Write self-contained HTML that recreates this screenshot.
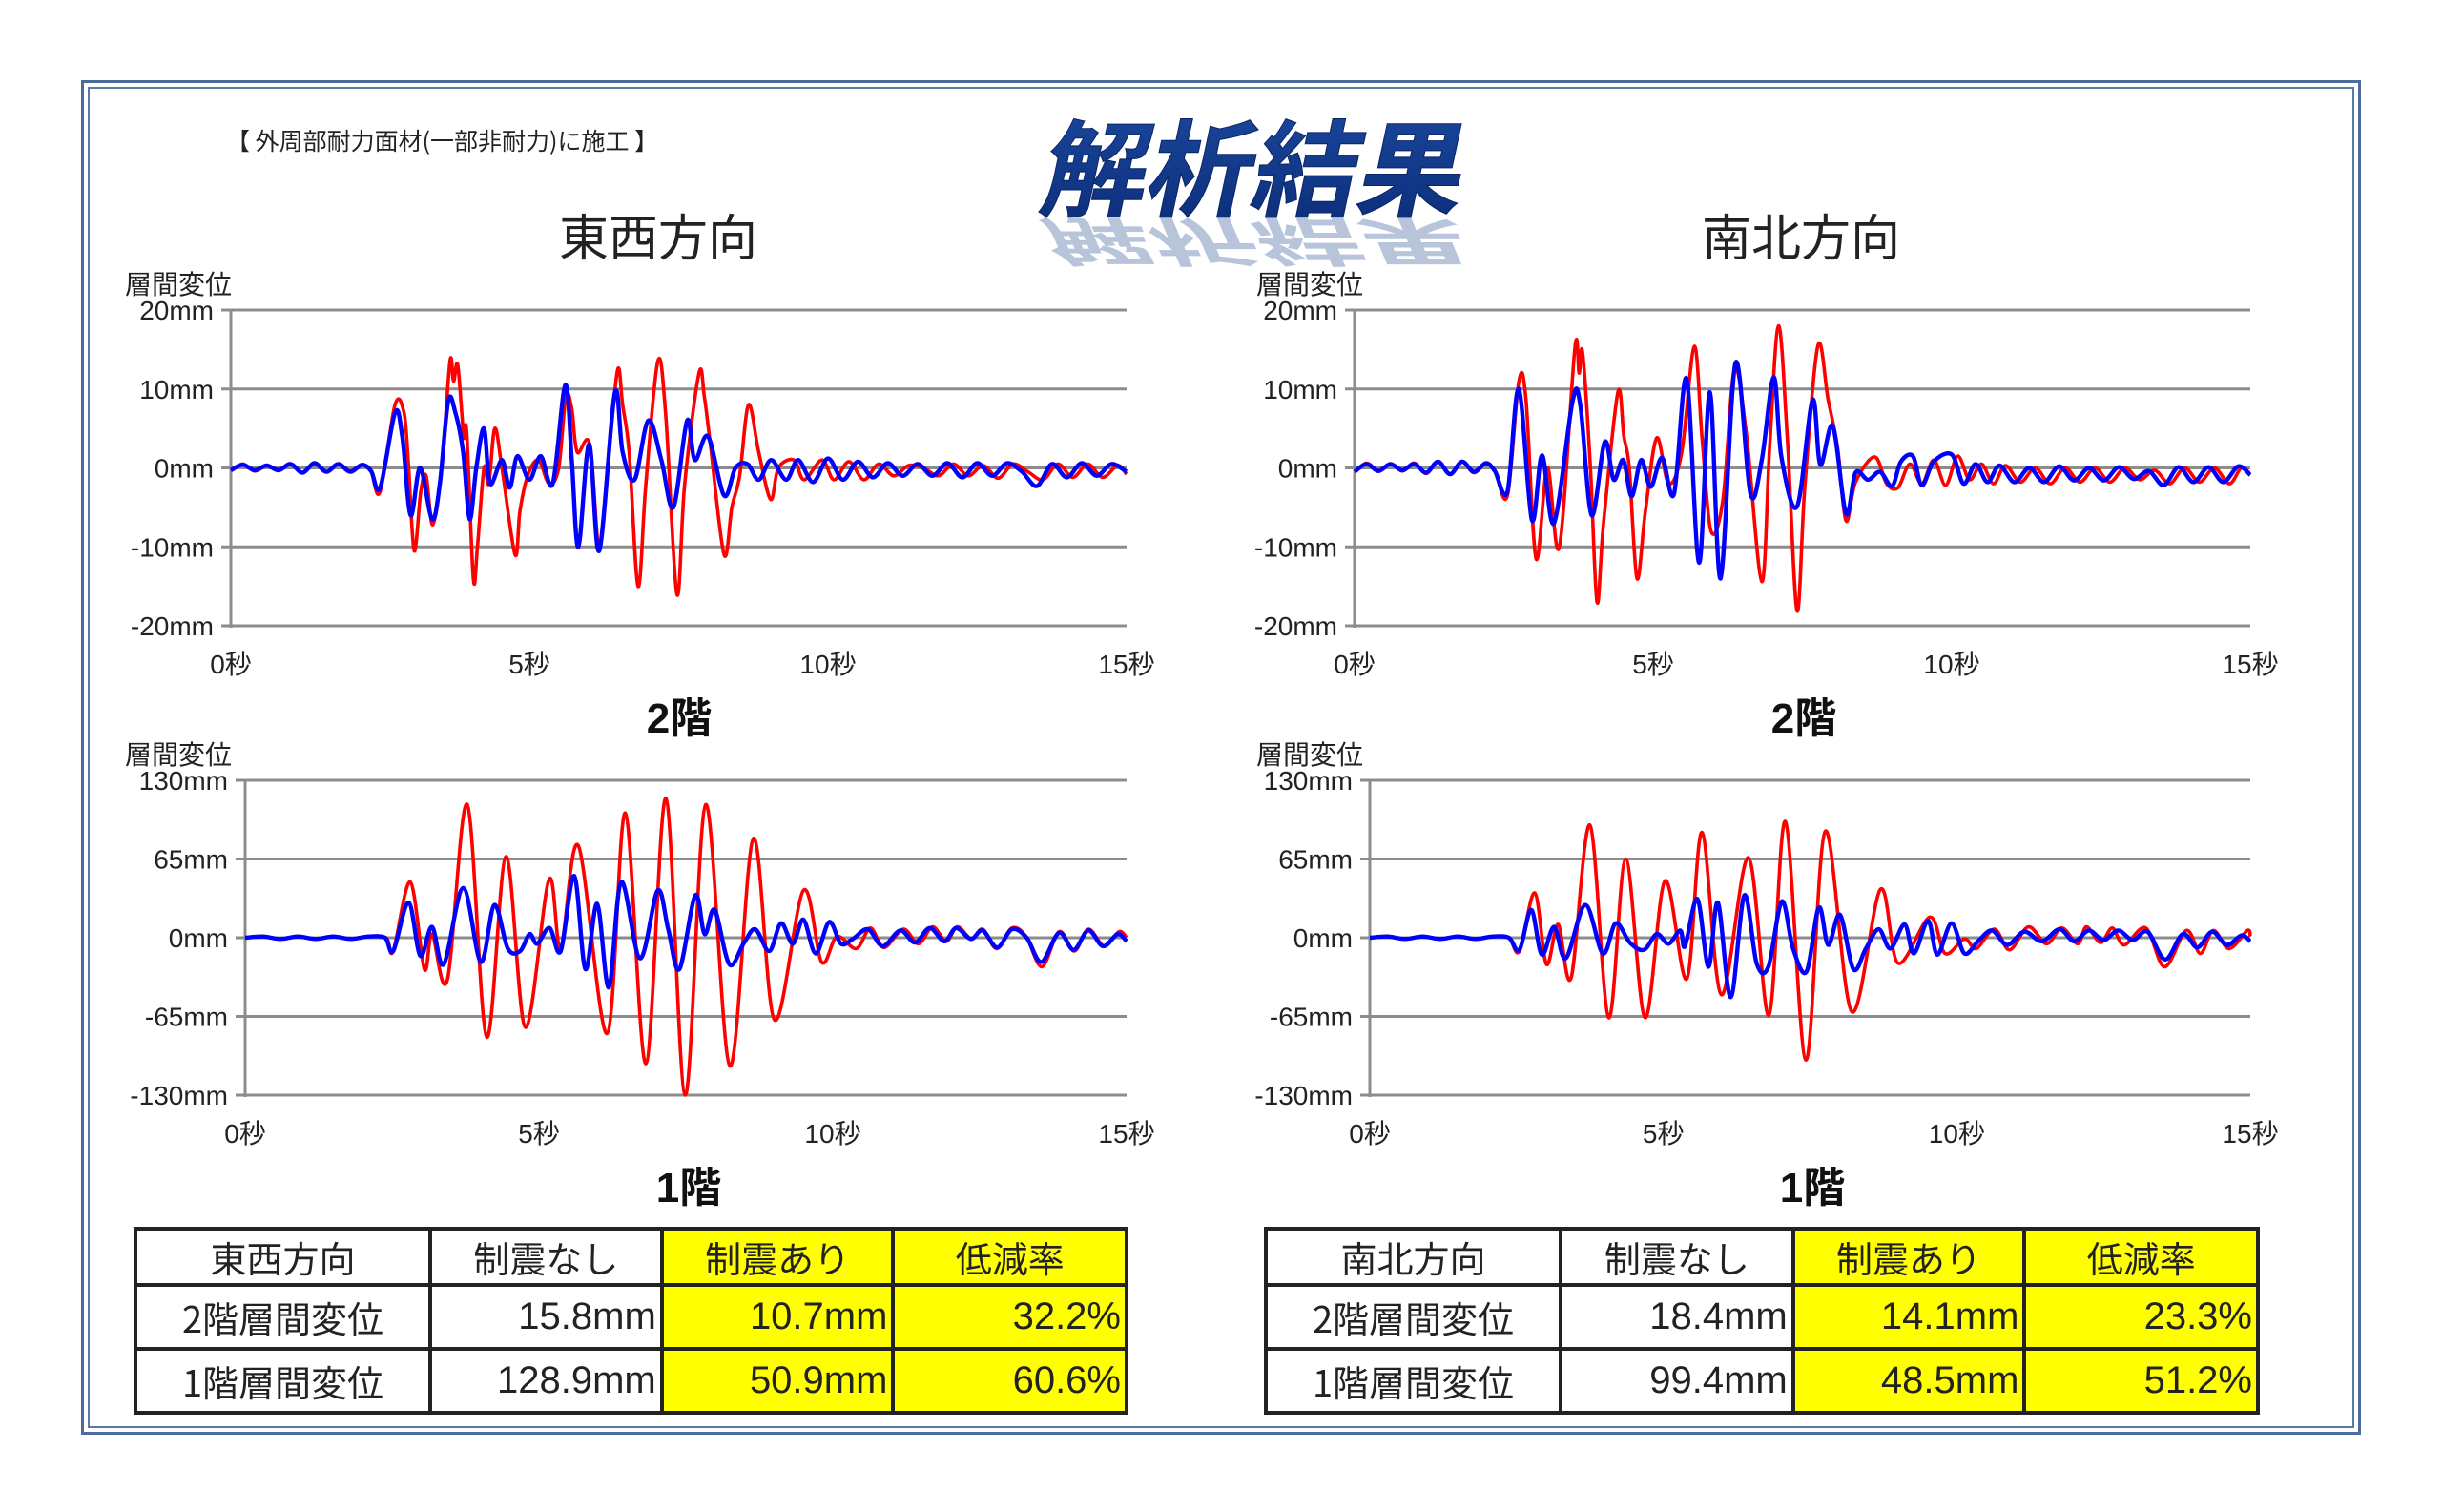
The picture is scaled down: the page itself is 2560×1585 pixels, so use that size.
<!DOCTYPE html>
<html><head><meta charset="utf-8"><style>
html,body{margin:0;padding:0;background:#fff;}
body{width:2560px;height:1585px;overflow:hidden;position:relative;font-family:"Liberation Sans","Noto Sans CJK JP",sans-serif;}
#frame-outer{position:absolute;left:85px;top:84px;width:2390px;height:1420px;border:3px solid #4d6c9c;box-sizing:border-box;}
#frame-inner{position:absolute;left:92px;top:91px;width:2376px;height:1406px;border:2px solid #5a78a8;box-sizing:border-box;}
table{position:absolute;border-collapse:collapse;font-family:"Liberation Sans Narrow","Liberation Sans","Noto Sans CJK JP",sans-serif;font-size:40px;color:#222;}
td{border:4px solid #222;padding:0 4px;height:59px;box-sizing:border-box;}
td.h{text-align:center;font-family:"Noto Sans CJK JP",sans-serif;font-size:38px;}
td.n{text-align:right;}
td.y{background:#ffff00;}
</style></head><body>
<div id="frame-outer"></div>
<div id="frame-inner"></div>

<svg id="charts" width="2560" height="1585" style="position:absolute;left:0;top:0">
<defs>
<linearGradient id="titleGrad" x1="0" y1="0" x2="0" y2="1"><stop offset="0" stop-color="#1c4aa0"/><stop offset="1" stop-color="#0b2c78"/></linearGradient>
<linearGradient id="refGrad" gradientUnits="userSpaceOnUse" x1="0" y1="228" x2="0" y2="275"><stop offset="0" stop-color="#7088b4" stop-opacity="0.5"/><stop offset="1" stop-color="#ffffff" stop-opacity="0"/></linearGradient>
</defs>
<text x="1085" y="218" font-size="110" font-weight="bold" textLength="442" lengthAdjust="spacingAndGlyphs" font-family="Noto Sans CJK JP, sans-serif" fill="url(#refGrad)" transform="matrix(1,0,-0.2126,-0.5,48.5,342)">解析結果</text>
<text x="1085" y="218" font-size="110" font-weight="bold" textLength="442" lengthAdjust="spacingAndGlyphs" font-family="Noto Sans CJK JP, sans-serif" fill="url(#titleGrad)" stroke="#0a2466" stroke-width="1" transform="matrix(1,0,-0.2126,1,48.5,0)">解析結果</text>
<text x="237" y="157" font-size="25" font-family="Noto Sans CJK JP, sans-serif" fill="#222">【 外周部耐力面材(一部非耐力)に施工 】</text>
<text x="690" y="268" font-size="52" text-anchor="middle" font-family="Noto Sans CJK JP, sans-serif" fill="#222">東西方向</text>
<text x="1888" y="268" font-size="52" text-anchor="middle" font-family="Noto Sans CJK JP, sans-serif" fill="#222">南北方向</text>
<g id="g1"></g><g id="g2"></g><g id="g3"></g><g id="g4"></g>
</svg>

<table style="left:140px;top:1286px;width:1043px">
<colgroup><col style="width:310px"><col style="width:243px"><col style="width:243px"><col style="width:245px"></colgroup>
<tr><td class="h">東西方向</td><td class="h">制震なし</td><td class="h y">制震あり</td><td class="h y">低減率</td></tr>
<tr style="height:67px"><td class="h">2階層間変位</td><td class="n">15.8mm</td><td class="n y">10.7mm</td><td class="n y">32.2%</td></tr>
<tr style="height:67px"><td class="h">1階層間変位</td><td class="n">128.9mm</td><td class="n y">50.9mm</td><td class="n y">60.6%</td></tr>
</table>
<table style="left:1325px;top:1286px;width:1044px">
<colgroup><col style="width:310px"><col style="width:244px"><col style="width:243px"><col style="width:245px"></colgroup>
<tr><td class="h">南北方向</td><td class="h">制震なし</td><td class="h y">制震あり</td><td class="h y">低減率</td></tr>
<tr style="height:67px"><td class="h">2階層間変位</td><td class="n">18.4mm</td><td class="n y">14.1mm</td><td class="n y">23.3%</td></tr>
<tr style="height:67px"><td class="h">1階層間変位</td><td class="n">99.4mm</td><td class="n y">48.5mm</td><td class="n y">51.2%</td></tr>
</table>

<script>
// ---- tick labels ----
const xTicks = [0, 5, 10, 15];
const xTickLabels = ["0秒", "5秒", "10秒", "15秒"];
const yTicks2F = [20, 10, 0, -10, -20];
const yTickLabels2F = ["20mm", "10mm", "0mm", "-10mm", "-20mm"];
const yTicks1F = [130, 65, 0, -65, -130];
const yTickLabels1F = ["130mm", "65mm", "0mm", "-65mm", "-130mm"];

// ---- East-West 2F ----
const ew2RedT = [0,0.2,0.4,0.6,0.8,1.0,1.2,1.4,1.6,1.8,2.0,2.2,2.35,2.5,2.75,2.9,2.97,3.07,3.18,3.27,3.38,3.53,3.67,3.73,3.8,3.9,3.95,4.06,4.13,4.24,4.32,4.42,4.54,4.76,4.84,4.97,5.15,5.33,5.49,5.61,5.71,5.8,6.01,6.17,6.33,6.48,6.56,6.67,6.82,6.95,7.15,7.28,7.47,7.6,7.84,7.93,8.03,8.26,8.39,8.52,8.67,8.84,9.04,9.17,9.43,9.6,9.9,10.1,10.35,10.6,10.85,11.1,11.35,11.6,11.85,12.1,12.35,12.6,12.85,13.1,13.35,13.6,13.85,14.1,14.35,14.6,14.85,15];
const ew2RedV = [-0.3,0.5,-0.4,0.3,-0.2,0.5,-0.6,0.6,-0.5,0.5,-0.4,0.4,-0.5,-3,8,7,1,-10.5,-3,-1,-7.2,0,13.5,11,13,4,4.5,-14,-10,0,-2,5,0,-11,-5.5,-1,1,-2,0,9,7.5,2,3,-10,2,12.5,8,2,-15,-2,13.5,7,-16,-2,12,9,3,-11,-5,-1,8,2,-4,0,1,-1.5,1,-1.5,0.8,-1.5,0.5,-1,0.3,0,-1,0.5,-1,0.3,-1.3,0.5,-0.5,-1.5,0.5,-1.2,0.5,-1.2,0.3,-0.8];
const ew2BlueT = [0,0.2,0.4,0.6,0.8,1.0,1.2,1.4,1.6,1.8,2.0,2.2,2.35,2.5,2.75,2.87,3.01,3.17,3.37,3.5,3.64,3.76,3.89,4.0,4.11,4.24,4.34,4.54,4.67,4.8,5.0,5.19,5.39,5.6,5.71,5.82,6.0,6.17,6.43,6.56,6.76,6.99,7.21,7.41,7.64,7.77,7.99,8.26,8.45,8.65,8.84,9.05,9.3,9.5,9.75,10.0,10.25,10.5,10.75,11.0,11.25,11.5,11.75,12.0,12.25,12.5,12.75,13.0,13.25,13.5,13.75,14.0,14.25,14.5,14.75,15];
const ew2BlueV = [-0.3,0.4,-0.3,0.3,-0.3,0.5,-0.6,0.6,-0.5,0.5,-0.5,0.4,-0.4,-2.5,7,4,-6,0,-6.5,-2,8.5,7,2,-6.5,0,5,-2,1,-2.5,1.5,-1.5,1.5,-2,10.5,1,-10,3,-10.5,9.5,2,-1.5,6,1,-5,6,1,4,-3.5,0,0.5,-1.5,1,-1.5,1,-1.8,1.2,-1.5,0.8,-1.2,0.6,-1,0.5,-1,0.6,-1.2,0.6,-1,0.6,-0.5,-2.3,0.5,-1.2,0.6,-1,0.5,-0.5];

// ---- East-West 1F ----
const ew1RedT = [0,0.3,0.6,0.9,1.2,1.5,1.8,2.1,2.4,2.52,2.81,3.05,3.18,3.44,3.78,4.11,4.44,4.77,5.17,5.37,5.67,6.16,6.47,6.82,7.16,7.49,7.84,8.25,8.65,9.01,9.5,9.81,10.07,10.4,10.64,10.87,11.2,11.46,11.7,11.93,12.12,12.36,12.55,12.79,13.05,13.29,13.56,13.85,14.11,14.35,14.62,14.87,15];
const ew1RedV = [0,1,-1,1,-1,1,-1,1,0,-11,46,-26,3,-35,110,-82,67,-74,48,-9,76,-79,103,-104,115,-130,110,-106,82,-68,39,-20,1,-9,8,-8,7,-5,9,-3,9,-1,7,-9,8,1,-24,5,-11,7,-7,5,0];
const ew1BlueT = [0,0.3,0.6,0.9,1.2,1.5,1.8,2.1,2.38,2.52,2.78,2.98,3.18,3.38,3.71,4.01,4.24,4.47,4.68,4.84,4.97,5.18,5.37,5.6,5.79,5.99,6.19,6.4,6.72,7.02,7.2,7.39,7.66,7.82,7.99,8.24,8.48,8.68,8.92,9.12,9.32,9.5,9.71,9.94,10.14,10.34,10.6,10.85,11.15,11.4,11.65,11.9,12.1,12.35,12.55,12.8,13.05,13.3,13.55,13.85,14.1,14.35,14.6,14.85,15];
const ew1BlueV = [0,1,-1,1,-1,1,-1,1,0,-11,29,-15,9,-22,41,-20,27,-9,-11,3,-5,8,-11,51,-26,28,-41,46,-17,39,7,-26,35,3,23,-22,-5,7,-11,12,-5,15,-13,13,-5,-1,7,-7,6,-4,8,-3,8,-1,6,-8,7,0,-20,4,-10,6,-7,3,-3];

// ---- North-South 2F ----
const ns2RedT = [0,0.2,0.4,0.6,0.8,1.0,1.2,1.4,1.6,1.8,2.0,2.2,2.35,2.56,2.75,2.87,3.04,3.23,3.43,3.69,3.76,3.82,3.95,4.06,4.17,4.41,4.51,4.6,4.73,4.87,5.06,5.26,5.48,5.69,5.82,5.97,6.17,6.36,6.56,6.82,6.95,7.1,7.25,7.41,7.54,7.76,7.93,8.09,8.23,8.39,8.71,8.91,9.1,9.3,9.5,9.7,9.9,10.1,10.3,10.5,10.7,10.9,11.15,11.4,11.65,11.9,12.15,12.4,12.65,12.9,13.15,13.4,13.65,13.9,14.15,14.4,14.65,14.85,15];
const ns2RedV = [-0.5,0.6,-0.3,0.5,-0.4,0.6,-0.7,0.8,-0.8,0.8,-0.6,0.6,-0.4,-3.5,10.9,8.7,-11.5,0,-10,15.2,12,14.6,0,-17,-7,9.6,4,0,-14,-5.5,3.8,-2,2,15.4,3.8,-8,-4,12.4,4.4,-14.4,2.5,18,3.5,-18.1,-2.4,15.5,8.7,2.5,-6.7,-1.8,1.4,-2,-2.5,0.5,-2,1,-2.2,1.5,-1.5,0.5,-2,0.3,-1.8,0,-2,0,-1.8,0,-1.8,0,-1.5,-0.3,-2,0,-1.8,0,-2,0,-0.8];
const ns2BlueT = [0,0.2,0.4,0.6,0.8,1.0,1.2,1.4,1.6,1.8,2.0,2.2,2.35,2.56,2.75,2.97,3.14,3.34,3.65,3.78,3.97,4.19,4.34,4.5,4.64,4.8,4.96,5.15,5.35,5.56,5.77,5.95,6.13,6.38,6.63,6.82,7.02,7.15,7.41,7.67,7.8,8.01,8.23,8.39,8.6,8.8,9.0,9.15,9.35,9.5,9.7,10.0,10.2,10.4,10.6,10.8,11.05,11.3,11.55,11.8,12.05,12.3,12.55,12.8,13.05,13.3,13.55,13.8,14.05,14.3,14.55,14.8,15];
const ns2BlueV = [-0.5,0.5,-0.4,0.5,-0.3,0.5,-0.6,0.8,-0.8,0.8,-0.5,0.6,-0.4,-3,10,-6.6,1.6,-7,8.4,8,-6,3.3,-1.5,1,-3.6,1,-2.4,1.3,-3.3,11.3,-12,9.6,-14,13.3,-3.3,1,11.5,1.3,-4.9,8.6,0.4,5.3,-5.8,-0.6,-1.5,-0.5,-2.3,0.8,1.5,-2.2,0.8,1.7,-2,0.5,-1.8,0.3,-1.8,0,-1.8,0.2,-1.6,0,-1.6,0.1,-1.4,-0.4,-2.2,0.1,-1.8,0.1,-1.8,0.2,-0.9];

// ---- North-South 1F ----
const ns1RedT = [0,0.3,0.6,0.9,1.2,1.5,1.8,2.1,2.37,2.55,2.81,3.01,3.21,3.43,3.75,4.07,4.36,4.69,5.03,5.4,5.66,5.99,6.45,6.8,7.08,7.43,7.76,8.21,8.7,9.0,9.54,9.8,10.13,10.33,10.64,10.9,11.22,11.53,11.79,12.06,12.21,12.45,12.65,12.85,13.22,13.54,13.91,14.15,14.37,14.64,14.95,15];
const ns1RedV = [0,1,-1,1,-1,1,-1,1,0,-11,37,-22,11,-33,93,-66,65,-66,47,-34,87,-47,66,-64,96,-101,88,-61,40,-21,17,-13,-1,-9,7,-10,9,-5,8,-5,9,-4,8,-6,8,-24,6,-13,6,-9,6,1];
const ns1BlueT = [0,0.3,0.6,0.9,1.2,1.5,1.8,2.1,2.37,2.55,2.75,2.93,3.14,3.34,3.67,3.97,4.19,4.43,4.67,4.89,5.09,5.29,5.37,5.58,5.77,5.93,6.15,6.38,6.59,6.79,7.02,7.21,7.44,7.65,7.81,8.01,8.24,8.45,8.67,8.87,9.11,9.27,9.51,9.67,9.91,10.13,10.36,10.6,10.86,11.15,11.45,11.75,12.0,12.25,12.5,12.75,13.0,13.25,13.55,13.85,14.1,14.35,14.6,14.85,15];
const ns1BlueV = [0,1,-1,1,-1,1,-1,1,0,-10,23,-14,9,-17,27,-13,12,-4,-10,3,-5,6,-7,32,-24,29,-49,35,-21,-24,30,-9,-28,25,-6,19,-26,-9,7,-9,11,-13,14,-14,12,-13,-3,6,-6,5,-3,7,-3,6,-2,6,-2,5,-18,3,-8,5,-6,2,-3];

function catmull(pts){
  let d = "M" + pts[0][0].toFixed(1) + "," + pts[0][1].toFixed(1);
  for (let i = 0; i < pts.length - 1; i++) {
    const p0 = pts[i-1] || pts[i], p1 = pts[i], p2 = pts[i+1], p3 = pts[i+2] || p2;
    const c1x = p1[0] + (p2[0]-p0[0])/6, c1y = p1[1] + (p2[1]-p0[1])/6;
    const c2x = p2[0] - (p3[0]-p1[0])/6, c2y = p2[1] - (p3[1]-p1[1])/6;
    d += " C" + c1x.toFixed(1) + "," + c1y.toFixed(1) + " " + c2x.toFixed(1) + "," + c2y.toFixed(1) + " " + p2[0].toFixed(1) + "," + p2[1].toFixed(1);
  }
  return d;
}
const NS = "http://www.w3.org/2000/svg";
function mk(tag, attrs, parent){
  const e = document.createElementNS(NS, tag);
  for (const k in attrs) e.setAttribute(k, attrs[k]);
  parent.appendChild(e);
  return e;
}
function drawChart(g, cfg){
  const xs = t => cfg.x0 + (cfg.x1 - cfg.x0) * t / 15;
  const ys = v => cfg.yTop + (cfg.yBot - cfg.yTop) * (cfg.max - v) / (2 * cfg.max);
  cfg.yTicks.forEach((v, i) => {
    const ln = mk("line", {x1: cfg.x0 - 10, x2: cfg.x1, y1: ys(v), y2: ys(v), stroke: "#8c8c8c", "stroke-width": 3}, g);
    
    
    const tx = mk("text", {x: cfg.x0 - 18, y: ys(v) + 10, "text-anchor": "end", "font-size": 28, fill: "#222", "font-family": "Liberation Sans Narrow, Liberation Sans, sans-serif"}, g);
    tx.textContent = cfg.yLabels[i];
    
    
  });
  const ax = mk("line", {x1: cfg.x0, x2: cfg.x0, y1: cfg.yTop, y2: cfg.yBot + 2, stroke: "#8c8c8c", "stroke-width": 3}, g);
  
  
  xTicks.forEach((t, i) => {
    const tx = mk("text", {x: xs(t), y: cfg.yBot + 50, "text-anchor": "middle", "font-size": 28, fill: "#222", "font-family": "Liberation Sans Narrow, Liberation Sans, Noto Sans CJK JP, sans-serif"}, g);
    tx.textContent = xTickLabels[i];
    
    
  });
  const yl = mk("text", {x: cfg.ylx, y: cfg.yTop - 17, "font-size": 28, fill: "#222", "font-family": "Noto Sans CJK JP, sans-serif"}, g);
  yl.textContent = "層間変位";
  
  
  const ft = mk("text", {x: cfg.fx, y: cfg.yBot + 112, "text-anchor": "middle", "font-size": 44, "font-weight": "bold", fill: "#111", "font-family": "Liberation Sans, Noto Sans CJK JP, sans-serif"}, g);
  ft.textContent = cfg.floor;
  
  
  const r = mk("path", {d: catmull(cfg.rT.map((t, i) => [xs(t), ys(cfg.rV[i])])), fill: "none", stroke: "#ff0000", "stroke-width": 3.6, "stroke-linejoin": "round"}, g);
  
  
  const b = mk("path", {d: catmull(cfg.bT.map((t, i) => [xs(t), ys(cfg.bV[i])])), fill: "none", stroke: "#0000ff", "stroke-width": 4.4, "stroke-linejoin": "round"}, g);
  
  
}
drawChart(document.getElementById("g1"), {x0:242,x1:1181,yTop:325,yBot:656,max:20,yTicks:yTicks2F,yLabels:yTickLabels2F,ylx:131,fx:712,floor:"2階",rT:ew2RedT,rV:ew2RedV,bT:ew2BlueT,bV:ew2BlueV});
drawChart(document.getElementById("g2"), {x0:257,x1:1181,yTop:818,yBot:1148,max:130,yTicks:yTicks1F,yLabels:yTickLabels1F,ylx:131,fx:722,floor:"1階",rT:ew1RedT,rV:ew1RedV,bT:ew1BlueT,bV:ew1BlueV});
drawChart(document.getElementById("g3"), {x0:1420,x1:2359,yTop:325,yBot:656,max:20,yTicks:yTicks2F,yLabels:yTickLabels2F,ylx:1317,fx:1891,floor:"2階",rT:ns2RedT,rV:ns2RedV,bT:ns2BlueT,bV:ns2BlueV});
drawChart(document.getElementById("g4"), {x0:1436,x1:2359,yTop:818,yBot:1148,max:130,yTicks:yTicks1F,yLabels:yTickLabels1F,ylx:1317,fx:1900,floor:"1階",rT:ns1RedT,rV:ns1RedV,bT:ns1BlueT,bV:ns1BlueV});
["g1","g2","g3","g4"].forEach((id, i) => {
  const g = document.getElementById(id);
  
  
});
</script>
</body></html>
